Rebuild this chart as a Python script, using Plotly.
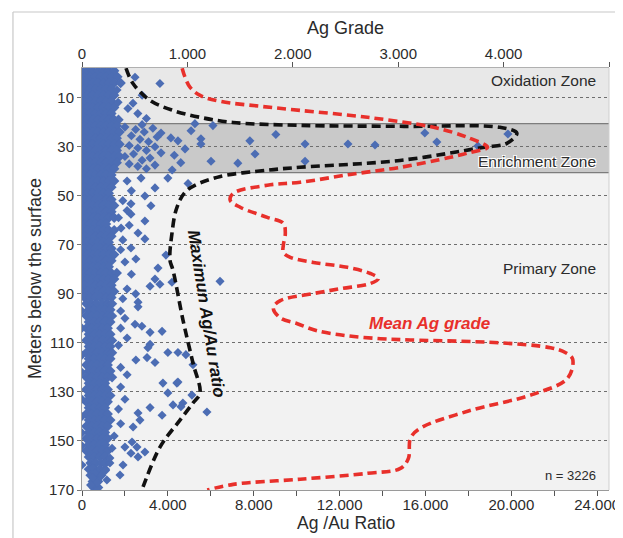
import plotly.graph_objects as go

# ---------------- data ----------------
# Mean Ag grade curve (top axis, Ag grade) vs depth (m)
red_depth = [-2, 1.7, 5.8, 9.1, 11.5, 13.5, 15.2, 18.0, 22.1, 26.2, 30.3, 32.3, 34.3, 38.4, 41.3, 44.5,
             45.7, 49, 51.8, 54.7, 58.8, 61.2, 65.3, 70.2, 73.1, 75.1, 77.2, 79.2, 81.7, 83.8, 85.8,
             87.9, 89.9, 92.8, 95.7, 99.8, 102.2, 105.1, 107.1, 108.3, 108.8, 110, 112, 114, 116.6,
             124.4, 130.9, 137.9, 144.8, 148.9, 157.1, 161.2, 163.2, 165.6, 167.7, 170]
red_grade = [950, 978, 1026, 1121, 1311, 1691, 2071, 2708, 3335, 3658, 3848, 3686, 3496, 3021, 2546, 2071,
             1758, 1435, 1406, 1501, 1758, 1910, 1929, 1910, 1910, 1976, 2195, 2518, 2736, 2812, 2736,
             2451, 2195, 1881, 1815, 1881, 2043, 2233, 2518, 2831, 3116, 3971, 4446, 4589, 4655,
             4608, 4285, 3658, 3211, 3116, 3097, 3021, 2708, 2071, 1435, 1188]

# Maximum Ag/Au ratio curve (bottom axis) vs depth (m)
black_depth = [-2, 4.2, 11.1, 15.2, 18, 20.1, 21.3, 21.7, 22.1, 24.5, 28.6, 30.3, 35.6, 38.4, 39.6, 42.5,
               47.8, 54.7, 65.3, 76.3, 80.3, 100.7, 118.2, 130.5, 134.5, 141.5, 152.5, 168.8, 170]
black_ratio = [2050, 2375, 3167, 4238, 5495, 7032, 10152, 15000, 19466, 20258, 19792, 18675, 14809, 10152,
               8615, 6287, 4890, 4424, 4191, 4098, 4238, 4704, 5169, 5495, 5169, 4564, 3632, 2841, 2790]

# Dense core of samples: (depth, ratios in hundreds)
core_rows = [
    (-1, [0, 2.5, 5, 7.5, 10, 12.5, 15]), (1.5, [1.2, 3.7, 6.2, 8.7, 11.2, 13.7, 16.5]),
    (4, [0, 2.5, 5, 7.5, 10, 12.5, 15, 18]), (6.5, [1.2, 3.7, 6.2, 8.7, 11.2, 13.7]),
    (9, [0, 2.5, 5, 7.5, 10, 12.5, 15]), (11.5, [1.2, 3.7, 6.2, 8.7, 11.2, 13.7]),
    (14, [0, 2.5, 5, 7.5, 10, 12.5, 15]), (16.5, [1.2, 3.7, 6.2, 8.7, 11.2, 13.7]),
    (19, [0, 2.5, 5, 7.5, 10, 12.5, 15, 17]), (21.5, [1.2, 3.7, 6.2, 8.7, 11.2, 13.7, 16.2]),
    (24, [0, 2.5, 5, 7.5, 10, 12.5, 15, 17.5]), (26.5, [1.2, 3.7, 6.2, 8.7, 11.2, 13.7, 16.2]),
    (29, [0, 2.5, 5, 7.5, 10, 12.5, 15, 17.5]), (31.5, [1.2, 3.7, 6.2, 8.7, 11.2, 13.7, 16.2]),
    (34, [0, 2.5, 5, 7.5, 10, 12.5, 15, 17.5]), (36.5, [1.2, 3.7, 6.2, 8.7, 11.2, 13.7, 16.2]),
    (39, [0, 2.5, 5, 7.5, 10, 12.5, 15]), (41.5, [1.2, 3.7, 6.2, 8.7, 11.2, 13.7]),
    (44, [0, 2.5, 5, 7.5, 10, 12.5, 15]), (46.5, [1.2, 3.7, 6.2, 8.7, 11.2, 13.7]),
    (49, [0, 2.5, 5, 7.5, 10, 12.5]), (51.5, [1.2, 3.7, 6.2, 8.7, 11.2, 13.7]),
    (54, [0, 2.5, 5, 7.5, 10, 12.5, 15]), (56.5, [1.2, 3.7, 6.2, 8.7, 11.2, 13.7]),
    (59, [0, 2.5, 5, 7.5, 10, 12.5, 15]), (61.5, [1.2, 3.7, 6.2, 8.7, 11.2]),
    (64, [0, 2.5, 5, 7.5, 10, 12.5, 15]), (66.5, [1.2, 3.7, 6.2, 8.7, 11.2, 13.7]),
    (69, [0, 2.5, 5, 7.5, 10, 12.5]), (71.5, [1.2, 3.7, 6.2, 8.7, 11.2, 13.7]),
    (74, [0, 2.5, 5, 7.5, 10, 12.5, 15]), (76.5, [1.2, 3.7, 6.2, 8.7, 11.2, 13.7]),
    (79, [0, 2.5, 5, 7.5, 10, 12.5]), (81.5, [1.2, 3.7, 6.2, 8.7, 11.2, 13.7, 16.2]),
    (84, [0, 2.5, 5, 7.5, 10, 12.5, 15]), (86.5, [1.2, 3.7, 6.2, 8.7, 11.2, 13.7]),
    (89, [0, 2.5, 5, 7.5, 10, 12.5, 15]), (91.5, [1.2, 3.7, 6.2, 8.7, 11.2, 13.7]),
    (94, [2, 4.5, 7, 9.5, 12, 14]), (96.5, [3.2, 5.7, 8.2, 10.7, 13.2]),
    (99, [2, 4.5, 7, 9.5, 12, 14]), (101.5, [3.2, 5.7, 8.2, 10.7, 13.2]),
    (104, [2, 4.5, 7, 9.5, 12]), (106.5, [3.2, 5.7, 8.2, 10.7, 13.2]),
    (109, [2, 4.5, 7, 9.5, 12, 14]), (111.5, [3.2, 5.7, 8.2, 10.7, 13.2]),
    (114, [2, 4.5, 7, 9.5, 12, 14]), (116.5, [3.2, 5.7, 8.2, 10.7, 13.2]),
    (119, [2, 4.5, 7, 9.5, 12]), (121.5, [3.2, 5.7, 8.2, 10.7, 13.2]),
    (124, [2, 4.5, 7, 9.5, 12, 14]), (126.5, [3.2, 5.7, 8.2, 10.7]),
    (129, [2, 4.5, 7, 9.5, 12]), (131.5, [3.2, 5.7, 8.2, 10.7, 13.2]),
    (134, [2, 4.5, 7, 9.5, 12]), (136.5, [3.2, 5.7, 8.2, 10.7]),
    (139, [2, 4.5, 7, 9.5, 12]), (141.5, [3.2, 5.7, 8.2, 10.7, 13.2]),
    (144, [2, 4.5, 7, 9.5, 12]), (146.5, [3.2, 5.7, 8.2, 10.7]),
    (149, [2, 4.5, 7, 9.5, 12]), (151.5, [3.2, 5.7, 8.2, 10.7]),
    (154, [2, 4.5, 7, 9.5, 12]), (156.5, [3.2, 5.7, 8.2, 10.7]),
    (159, [4, 6.5, 9, 11]), (161.5, [3.2, 5.7, 8.2, 10.7]),
    (164, [4, 6.5, 9]), (166.5, [5, 7.5]), (169, [5.5, 7.5]),
]

# Scattered samples outside the dense core
outlier_depth = [4.2, 6.9, 14.4, 12.3, 11.9, 1.7, 9.0, 16.5, 18.5,
                 20.6, 21.4, 23.5, 24.4, 26.4, 27.6, 26.8, 28.9, 30.9, 32.5, 34.6, 35.9, 36.7, 33.0,
                 27.6, 25.0, 28.9, 35.9, 28.9, 29.3, 24.4, 28.1, 29.7, 24.8,
                 22, 23, 24, 25.5, 27, 28, 29.5, 30.5, 31.5, 33, 34, 35.5, 37, 38, 39, 21, 22.5, 26,
                 30, 37.5, 39.5, 33.5, 36.5,
                 42.8, 46.8, 50.1, 54.1, 57.5, 60.3, 65.2, 67.6, 71.3, 75.8, 79.5, 84, 74.2, 45, 42.8,
                 63.2, 53.3, 84.9, 85.3, 86.1, 86.9, 93.4, 102.4, 103.2, 105.7, 105.3, 110.6, 113.9,
                 113.9, 116, 118, 118.9, 126.4, 126.4, 130.4, 131.3, 134.5, 135.3, 138.2, 139.5, 141.5,
                 144.3, 150.4, 154.5, 152.5, 159, 165.9, 170, 95.3, 112, 114.8, 117, 126, 136, 136.4,
                 138.6, 152.5, 155, 156.5, 159.8, 163.9, 159.8, 146.7,
                 44, 48, 52, 56, 59, 62, 68, 72, 77, 82, 88, 90, 92, 97, 100, 104, 108, 111, 120, 123,
                 128, 133, 137, 143, 148, 153, 157, 162, 161, 163, 165, 167, 168,
                 97, 104, 115, 122, 133, 140, 152]
outlier_ratio = [3630, 1630, 2140, 2375, 1680, 2470, 2800, 2600, 3000,
                 5260, 6100, 5080, 3680, 4140, 4470, 5540, 5540, 4800, 3680, 3170, 6010, 7260, 8060,
                 7820, 9030, 10390, 10390, 12390, 13650, 15970, 16530, 18440, 19840,
                 2000, 2500, 2900, 2300, 2700, 3100, 2200, 2600, 3000, 2400, 2000, 2800, 2200, 2600,
                 3000, 2800, 3300, 3500, 3400, 3400, 4200, 4300, 4600,
                 4000, 3400, 2930, 3210, 2280, 2930, 2610, 2930, 2280, 2510, 3540, 3400, 3910, 4940, 2750,
                 1820, 2280, 6430, 4190, 3630, 3170, 2610, 2470, 2790, 3170, 3730, 3170, 4000,
                 4470, 3030, 3400, 5170, 3770, 4420, 4000, 5120, 4700, 4240, 5820, 3730, 2700,
                 2380, 2330, 2930, 2560, 1300, 1160, 700, 2610, 3070, 4840, 2510, 4470, 4610, 3170,
                 2610, 2000, 2280, 2610, 1910, 1770, 0, 0,
                 2100, 2300, 1900, 2100, 1700, 2200, 1900, 1800, 2000, 2300, 2100, 2500, 1900, 1800,
                 2000, 1800, 2100, 1700, 1800, 2100, 1800, 2000, 1700, 1800, 1500, 1400, 1300, 1100,
                 500, 600, 500, 700, 400,
                 0, 0, 0, 0, 0, 0, 0]

# Zones (depth limits) and axis ticks
zone_names = ["Oxidation Zone", "Enrichment Zone", "Primary Zone"]
zone_top = [-2.1, 20.6, 40.6]
zone_bottom = [20.6, 40.6, 170]
zone_fill = ["#e8e8e8", "#c9c9c9", "#f2f2f2"]
depth_ticks = [10, 30, 50, 70, 90, 110, 130, 150, 170]
ratio_ticks = [0, 2000, 4000, 6000, 8000, 10000, 12000, 14000, 16000, 18000, 20000, 22000, 24000]
ratio_labels = ["0", "", "4.000", "", "8.000", "", "12.000", "", "16.000", "", "20.000", "", "24.000"]
grade_ticks = [0, 1000, 2000, 3000, 4000, 5000]
grade_labels = ["0", "1.000", "2.000", "3.000", "4.000", "5.000"]
n_samples = 3226

# ---------------- build ----------------
core_depth = []
core_ratio = []
for d, vals in core_rows:
    for v in vals:
        core_depth.append(d)
        core_ratio.append(v * 100)

FONT = "Liberation Sans, Arial, sans-serif"
TXT = "#2b2b2b"
BLUE = "#4c6db4"

fig = go.Figure()
fig.add_trace(go.Scatter(
    x=core_ratio, y=core_depth, mode="markers",
    marker=dict(symbol="diamond", size=8, color=BLUE, line=dict(width=0)),
    xaxis="x", yaxis="y", showlegend=False, hoverinfo="skip"))
fig.add_trace(go.Scatter(
    x=outlier_ratio, y=outlier_depth, mode="markers",
    marker=dict(symbol="diamond", size=7, color=BLUE, line=dict(width=0)),
    xaxis="x", yaxis="y", showlegend=False, hoverinfo="skip"))
fig.add_trace(go.Scatter(
    x=black_ratio, y=black_depth, mode="lines",
    line=dict(color="#111111", width=3.6, dash="9px,5px", shape="spline", smoothing=1.0),
    xaxis="x", yaxis="y", showlegend=False, hoverinfo="skip"))
fig.add_trace(go.Scatter(
    x=red_grade, y=red_depth, mode="lines",
    line=dict(color="#e8302b", width=3.6, dash="9px,5px", shape="spline", smoothing=1.0),
    xaxis="x2", yaxis="y", showlegend=False, hoverinfo="skip"))

shapes = []
for t, b, c in zip(zone_top, zone_bottom, zone_fill):
    shapes.append(dict(type="rect", xref="paper", yref="y", x0=0, x1=1, y0=t, y1=b,
                       fillcolor=c, line=dict(width=0), layer="below"))
for yb in [zone_top[1], zone_top[2]]:
    shapes.append(dict(type="line", xref="paper", yref="y", x0=0, x1=1, y0=yb, y1=yb,
                       line=dict(color="#7d7d7d", width=1.2), layer="below"))
shapes.append(dict(type="line", xref="paper", yref="paper", x0=1, x1=1, y0=0, y1=1,
                   line=dict(color="#cfcfcf", width=1), layer="below"))
# outer frame (top and left)
shapes.append(dict(type="line", xref="paper", yref="paper", x0=-0.131, x1=1.05, y0=1.1327, y1=1.1327,
                   line=dict(color="#c8c8c8", width=1.2)))
shapes.append(dict(type="line", xref="paper", yref="paper", x0=-0.131, x1=-0.131, y0=-0.2, y1=1.1327,
                   line=dict(color="#c8c8c8", width=1.2)))

ann = []
zone_label_depth = [3.0, 36.0, 79.6]
for name, yd in zip(zone_names, zone_label_depth):
    f = dict(family=FONT, size=15.5, color=TXT)
    if name == "Enrichment Zone":
        f["shadow"] = "1px 1px 0 #fff, -1px -1px 0 #fff, 1px -1px 0 #fff, -1px 1px 0 #fff"
    ann.append(dict(text=name, xref="paper", yref="y", x=0.979, y=yd, xanchor="right",
                    yanchor="middle", showarrow=False, font=f))
ann.append(dict(text=f"n = {n_samples}", xref="paper", yref="y", x=0.979, y=163.9, xanchor="right",
                yanchor="middle", showarrow=False, font=dict(family=FONT, size=13, color=TXT)))
ann.append(dict(text="<b><i>Mean Ag grade</i></b>", xref="paper", yref="y", x=0.660, y=102,
                xanchor="center", yanchor="middle", showarrow=False,
                font=dict(family=FONT, size=17, color="#e8302b")))
ann.append(dict(text="<b><i>Maximun Ag/Au ratio</i></b>", xref="paper", yref="y", x=0.236, y=98,
                xanchor="center", yanchor="middle", showarrow=False, textangle=81,
                font=dict(family=FONT, size=17, color="#111111")))
ann.append(dict(text="Ag Grade", xref="paper", yref="paper", x=0.5, y=1, yshift=40,
                xanchor="center", yanchor="middle", showarrow=False,
                font=dict(family=FONT, size=18, color=TXT)))
ann.append(dict(text="Ag /Au Ratio", xref="paper", yref="paper", x=0.5, y=0, yshift=-33,
                xanchor="center", yanchor="middle", showarrow=False,
                font=dict(family=FONT, size=17.5, color=TXT)))
ann.append(dict(text="Meters below the surface", xref="paper", yref="paper", x=0, xshift=-47, y=0.5,
                xanchor="center", yanchor="middle", showarrow=False, textangle=-90,
                font=dict(family=FONT, size=18, color=TXT)))

# The page body has an 8px default margin, so the figure is 8px smaller and
# the top/left margins 8px smaller to land the plot area where the reference has it.
fig.update_layout(
    width=615, height=530,
    margin=dict(l=74, r=14, t=60, b=48, autoexpand=False),
    paper_bgcolor="white", plot_bgcolor="#f2f2f2",
    font=dict(family=FONT, size=15, color=TXT),
    shapes=shapes, annotations=ann,
    xaxis=dict(range=[0, 24550], tickvals=ratio_ticks, ticktext=ratio_labels, automargin=False,
               ticks="outside", ticklen=5, tickwidth=1.3, tickcolor="#555", ticklabelstandoff=-4,
               showgrid=False, zeroline=False, showline=True, linecolor="#9a9a9a", linewidth=1,
               tickfont=dict(size=15, color=TXT)),
    xaxis2=dict(range=[0, 5000], overlaying="x", side="top", anchor="y", automargin=False,
                tickvals=grade_ticks, ticktext=grade_labels, ticklabelstandoff=-3,
                ticks="outside", ticklen=5, tickwidth=1.3, tickcolor="#555",
                showgrid=False, zeroline=False, showline=True, linecolor="#b0b0b0", linewidth=1,
                tickfont=dict(size=15, color=TXT)),
    yaxis=dict(range=[170, -2.1], tickvals=depth_ticks, ticks="outside", ticklen=4, automargin=False,
               tickcolor="#777", showgrid=True, gridcolor="#6e6e6e", gridwidth=1, griddash="dot",
               zeroline=False, showline=True, linecolor="#9a9a9a", linewidth=1,
               tickfont=dict(size=15, color=TXT)),
)

fig.write_html("out.html")
